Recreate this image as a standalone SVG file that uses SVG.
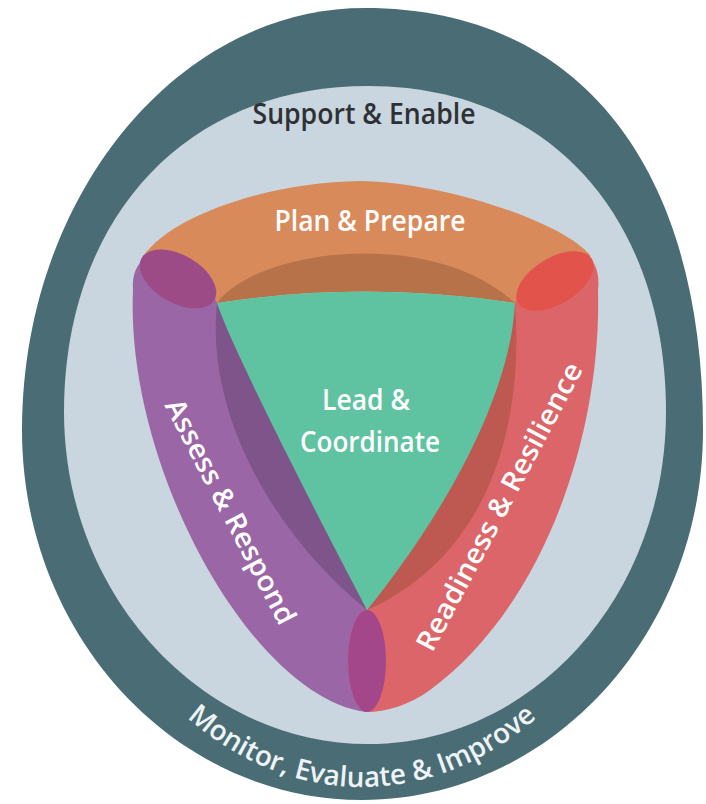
<svg xmlns="http://www.w3.org/2000/svg" width="706" height="804" viewBox="0 0 706 804">
<style>
.lbl{font-family:"Open Sans","Liberation Sans",sans-serif;font-weight:600;font-size:28px;fill:#ffffff;text-anchor:middle}
.dark{fill:#2e3134}
.ring{fill:#4a6c75}
.inner{fill:#c9d5df}
</style>
<defs>
<path id="arcM" d="M75.4,535 A305,383 0 0 0 648.6,535"/>
</defs>
<rect width="706" height="804" fill="#ffffff"/>
<g id="monitor">
<path class="ring" d="M22,430 C22,198.5 176,8 365,8 C578,8 703,165 703,430 C703,634 550,800 362,800 C174,800 22,634 22,430 Z"/>
<text class="lbl" style="font-size:28px;fill:#eef3f5"><textPath href="#arcM" startOffset="50%" textLength="385" lengthAdjust="spacingAndGlyphs">Monitor, Evaluate &amp; Improve</textPath></text>
</g>
<g id="support">
<path class="inner" d="M64,412 C64,222 182,86 368,86 C554,86 666,222 666,412 C666,596 533,744 368,744 C203,744 64,596 64,412 Z"/>
<text class="lbl dark" x="364" y="124" textLength="223" lengthAdjust="spacingAndGlyphs">Support &amp; Enable</text>
</g>
<g id="plan">
<path fill="#d98a5a" d="M142,258 C170,215 270,182 360,181 C440,182 560,220 590,255 L592,268 L515,303 Q365,280 217,303 L150,285 Z"/>
<path fill="#b8724a" d="M217,303 C255,250 430,225 515,303 Q365,280 217,303 Z"/>
<text class="lbl" x="370" y="231" textLength="191" lengthAdjust="spacingAndGlyphs">Plan &amp; Prepare</text>
</g>
<g id="assess">
<path fill="#9a66a6" d="M217,303 C200,265 175,248 155,254 C138,259 132,272 133,290 C125,470 255,700 367,712 A19,51 0 0 0 367,610 L300,430 Z"/>
<path fill="#7e548b" d="M217,303 C205,420 280,540 367,610 Z"/>
</g>
<g id="readiness">
<path fill="#db6568" d="M515,303 C530,262 560,248 578,252 C595,256 600,272 598,290 C602,440 540,610 430,690 C410,705 385,712 367,712 A19,51 0 0 1 367,610 L440,430 Z"/>
<path fill="#bd5951" d="M515,303 C525,440 480,560 367,610 Z"/>
</g>
<g id="lead">
<path fill="#5fc3a2" d="M217,303 Q365,280 515,303 C510,400 440,520 367,610 C330,540 232,350 217,303 Z"/>
<text class="lbl" x="366" y="410" textLength="88" lengthAdjust="spacingAndGlyphs">Lead &amp;</text>
<text class="lbl" x="370" y="452" textLength="140" lengthAdjust="spacingAndGlyphs">Coordinate</text>
</g>
<g id="overlaps">
<ellipse cx="178" cy="279" rx="42" ry="24" transform="rotate(30 178 279)" fill="#9c4b86"/>
<ellipse cx="555" cy="281" rx="43" ry="23" transform="rotate(-31 555 281)" fill="#e1534b"/>
<ellipse cx="367" cy="661" rx="19" ry="51" fill="#a4468a"/>
</g>
<g id="band-labels">
<text class="lbl" transform="translate(230,512) rotate(62.5)" x="0" y="9" textLength="250" lengthAdjust="spacingAndGlyphs">Assess &amp; Respond</text>
<text class="lbl" transform="translate(500,507) rotate(-62)" x="0" y="9" textLength="322" lengthAdjust="spacingAndGlyphs">Readiness &amp; Resilience</text>
</g>
<g id="connectors"></g>
</svg>
